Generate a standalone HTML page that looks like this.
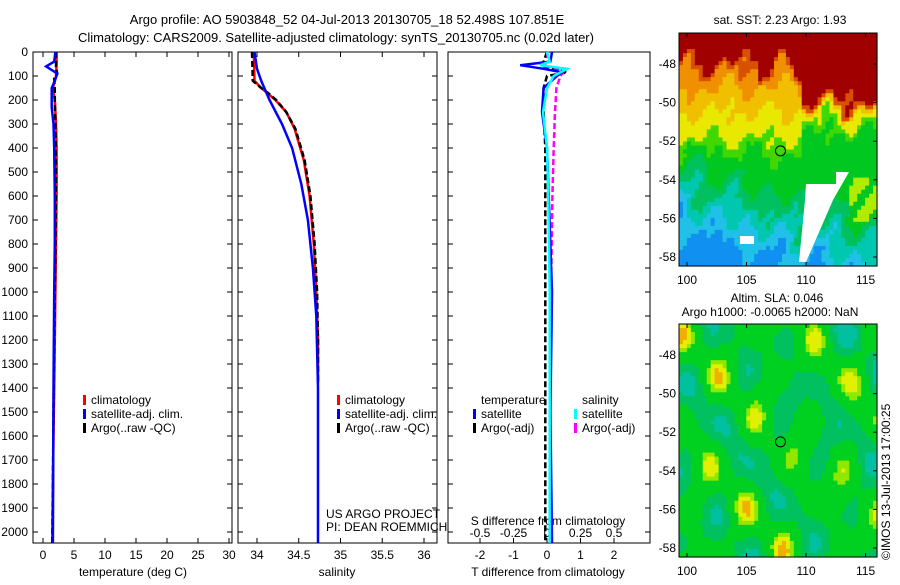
<!DOCTYPE html>
<html><head><meta charset="utf-8"><style>
body{margin:0;background:#fff;width:900px;height:580px;overflow:hidden}
svg{font-family:"Liberation Sans",sans-serif;font-size:12px}
</style></head><body>
<svg id="s" width="900" height="580" xmlns="http://www.w3.org/2000/svg">
<text x="347" y="24" text-anchor="middle" font-size="13">Argo profile: AO 5903848_52 04-Jul-2013 20130705_18 52.498S 107.851E</text>
<text x="336" y="42" text-anchor="middle" font-size="13">Climatology: CARS2009. Satellite-adjusted climatology: synTS_20130705.nc (0.02d later)</text>
<g id="g"></g>
<text x="780" y="24" text-anchor="middle">sat. SST: 2.23 Argo: 1.93</text>
<text x="777" y="302" text-anchor="middle">Altim. SLA: 0.046</text>
<text x="770" y="316" text-anchor="middle">Argo h1000: -0.0065 h2000: NaN</text>
<text transform="translate(890,560) rotate(-90)">©IMOS 13-Jul-2013 17:00:25</text>
<text x="326" y="518">US ARGO PROJECT</text>
<text x="326" y="531">PI: DEAN ROEMMICH</text>
</svg>
<script>
// data
const depthTicks=[0,100,200,300,400,500,600,700,800,900,1000,1100,1200,1300,1400,1500,1600,1700,1800,1900,2000];
const tTicks=[0,5,10,15,20,25,30];
const sTicks=[34,34.5,35,35.5,36];
const sTickLabels=["34","34.5","35","35.5","36"];
const dTTicks=[-2,-1,0,1,2];
const dSTicks=[-0.5,-0.25,0,0.25,0.5];
const dSTickLabels=["-0.5","-0.25","0","0.25","0.5"];
const climDepth=[0,50,100,150,200,300,400,600,800,1000,1200,1400,1600,1800,2045];
const climT=[2.2,2.2,2.1,1.6,1.9,2.1,2.2,2.2,2.1,2.0,1.9,1.8,1.7,1.6,1.5];
const satDepth=[0,40,60,90,120,150,230,300,400,600,800,1000,1400,2045];
const satT=[2.0,1.8,0.5,2.3,1.9,1.4,1.4,1.7,1.8,1.9,1.9,1.8,1.7,1.6];
const argoDepth=[0,60,90,110,150,200,300,500,800,1000,1200,1500,1800,2045];
const argoT=[2.1,2.1,2.3,1.8,1.9,1.9,2.0,2.1,2.0,1.9,1.8,1.7,1.6,1.5];
const climSDepth=[0,120,150,170,200,250,320,450,600,800,1000,1200,1380];
const climS=[33.96,33.97,34.05,34.12,34.22,34.35,34.45,34.56,34.63,34.68,34.71,34.73,34.73];
const argoS=[33.94,33.95,34.05,34.13,34.23,34.35,34.46,34.57,34.64,34.69,34.72,34.73,34.73];
const satSDepth=[0,70,120,200,300,400,550,700,900,1100,1400,2045];
const satS=[33.97,34.0,34.05,34.15,34.3,34.42,34.53,34.61,34.67,34.71,34.73,34.73];
const dDepth=[0,40,55,70,85,100,150,250,400,600,1000,1500,2045];
const dTsat=[0.15,0.1,-0.8,-0.1,0.45,0.3,-0.1,-0.15,0.0,0.05,0.15,0.1,0.15];
const dTargo=[0.0,-0.1,-0.2,0.2,0.6,0.0,-0.1,-0.1,-0.05,-0.05,-0.05,-0.05,-0.05];
const dSsat=[0.0,0.02,-0.05,0.15,0.1,0.05,0.0,-0.03,0.0,0.01,0.02,0.02,0.02];
const dSargo=[0.0,0.01,-0.03,0.08,0.12,0.1,0.07,0.06,0.05,0.04,0.03,0.02,0.02];
const latTicks=[48,50,52,54,56,58];
const lonTicks=[100,105,110,115];

const NS="http://www.w3.org/2000/svg";
const G=document.getElementById('g');
function mk(t,a,p){const e=document.createElementNS(NS,t);for(const k in a)e.setAttribute(k,a[k]);(p||G).appendChild(e);return e;}
const yD=d=>52+d*0.24;
function lin(d0,d1,r0,r1){return v=>r0+(v-d0)*(r1-r0)/(d1-d0);}
function panel(x0,x1,name){
  const b=mk('rect',{x:x0,y:52,width:x1-x0,height:491,fill:'none',stroke:'#000'});
  
  depthTicks.forEach(d=>{mk('line',{x1:x0,x2:x0+5,y1:yD(d),y2:yD(d),stroke:'#000'});mk('line',{x1:x1,x2:x1-5,y1:yD(d),y2:yD(d),stroke:'#000'});});
}
function line(xs,ds,fx,col,w,dash,name){
  const p=xs.map((v,i)=>fx(v).toFixed(1)+','+yD(ds[i]).toFixed(1)).join(' ');
  const e=mk('polyline',{points:p,fill:'none',stroke:col,'stroke-width':w});
  if(dash)e.setAttribute('stroke-dasharray',dash);
  
}
function txt(x,y,s,anc,name){const e=mk('text',{x:x,y:y,'text-anchor':anc||'start'});e.textContent=s;return e;}
function legend(x,y,items,pre){items.forEach((it,i)=>{mk('rect',{x:x,y:y+i*14-9,width:3,height:10,fill:it[0]});txt(x+8,y+i*14,it[1],'start',pre+'-legend-entry');});}

// panel 1
panel(33,232,'temperature-panel');
const xT=lin(0,30,43,229);
depthTicks.forEach(d=>txt(28,yD(d)+4,String(d),'end','depth-tick-label'));
tTicks.forEach(t=>{mk('line',{x1:xT(t),x2:xT(t),y1:52,y2:57,stroke:'#000'});mk('line',{x1:xT(t),x2:xT(t),y1:543,y2:538,stroke:'#000'});txt(xT(t),559,String(t),'middle','temperature-tick-label');});
txt(133,576,'temperature (deg C)','middle','temperature-axis-title');
line(climT,climDepth,xT,'#f00',2.5,null,'temp-climatology-line');
line(argoT,argoDepth,xT,'#000',2.5,'6,3','temp-argo-line');
line(satT,satDepth,xT,'#00f',2.5,null,'temp-satellite-line');
legend(83,404,[['#f00','climatology'],['#00f','satellite-adj. clim.'],['#000','Argo(..raw -QC)']],'temp');

// panel 2
panel(238,437,'salinity-panel');
const xS=lin(34,36,257,424);
sTicks.forEach((t,i)=>{mk('line',{x1:xS(t),x2:xS(t),y1:52,y2:57,stroke:'#000'});mk('line',{x1:xS(t),x2:xS(t),y1:543,y2:538,stroke:'#000'});txt(xS(t),559,sTickLabels[i],'middle','salinity-tick-label');});
txt(337,576,'salinity','middle','salinity-axis-title');
line(climS,climSDepth,xS,'#f00',2.5,null,'sal-climatology-line');
line(argoS,climSDepth,xS,'#000',2.5,'6,3','sal-argo-line');
line(satS,satSDepth,xS,'#00f',2.5,null,'sal-satellite-line');
legend(337,404,[['#f00','climatology'],['#00f','satellite-adj. clim.'],['#000','Argo(..raw -QC)']],'sal');

// panel 3
panel(448,650,'difference-panel');
const xdT=lin(-2,2,480,614), xdS=lin(-0.5,0.5,480,614);
dTTicks.forEach(t=>{mk('line',{x1:xdT(t),x2:xdT(t),y1:543,y2:538,stroke:'#000'});txt(xdT(t),559,String(t),'middle','tdiff-tick-label');});
dSTicks.forEach((t,i)=>txt(xdS(t),537,dSTickLabels[i],'middle','sdiff-tick-label'));
txt(548,525,'S difference from climatology','middle','sdiff-axis-title');
txt(548,576,'T difference from climatology','middle','tdiff-axis-title');
line(dTargo,dDepth,xdT,'#000',2.5,'6,3','tdiff-argo-line');
line(dSargo,dDepth,xdS,'#f0f',2.5,'6,3','sdiff-argo-line');
line(dTsat,dDepth,xdT,'#00f',2.5,null,'tdiff-satellite-line');
line(dSsat,dDepth,xdS,'#0ff',2.5,null,'sdiff-satellite-line');
txt(481,404,'temperature','start','tdiff-legend-title');
txt(582,404,'salinity','start','sdiff-legend-title');
legend(473,418,[['#00f','satellite'],['#000','Argo(-adj)']],'tdiff');
legend(574,418,[['#0ff','satellite'],['#f0f','Argo(-adj)']],'sdiff');

// maps (image-like fields)
function sstCol(x,y){
  let v=y+0.035*Math.sin(x*23+y*11)+0.03*Math.cos(x*41-y*17)+0.02*Math.sin(x*67+y*53);
  const redLim=x<0.4?0.12:(x<0.62?0.17-0.1*Math.exp(-Math.pow((x-0.5)/0.05,2)):0.27);
  if(v<redLim)return'#a00000';
  if(v<redLim+0.04)return'#d85000';
  if(v<0.23)return'#f09000';
  if(v<0.33)return'#f0c000';
  const yl=0.45-(x>0.6?0.08:0);
  if(v<yl)return'#e8e800';
  if(v<yl+0.05)return'#40d800';
  const q=v+0.25*(0.5-x)+0.05*Math.sin(x*30+y*20);
  if(x>0.84&&y>0.62&&y<0.8&&Math.sin(x*50+y*40)>-0.3)return'#b0ec00';
  if(q<0.68)return'#00c820';
  if(q<0.78)return'#00c060';
  if(q<0.86)return'#00c8b0';
  if(q<0.95)return'#20c0e8';
  return'#1090f0';
}
function slaCol(x,y){
  const v=Math.sin(x*19+1.3)*Math.cos(y*17-0.7)+0.6*Math.sin(x*11-y*13+2)+0.4*Math.cos(x*27+y*5);
  if(v>1.75)return'#f0b000';if(v>1.35)return'#e0f000';if(v>1.0)return'#90e800';if(v>-0.3)return'#00d020';if(v>-1.1)return'#00c060';return'#00c0a0';
}
function map(x0,y0,w,h,f,name,white){
  const g=mk('g',{});
  const n=50,m=58,cw=w/n,ch=h/m;
  for(let i=0;i<n;i++)for(let j=0;j<m;j++){mk('rect',{x:(x0+i*cw).toFixed(2),y:(y0+j*ch).toFixed(2),width:(cw+0.6).toFixed(2),height:(ch+0.6).toFixed(2),fill:f(i/n,j/m)},g);}
  if(white){mk('polygon',{points:'836,172 849,172 833,200 806,262 799,262 805,200 806,184 836,184',fill:'#fff'},g);mk('rect',{x:740,y:236,width:14,height:8,fill:'#fff'},g);}
  const lx=lin(100,116,687,877.5);
  mk('rect',{x:x0,y:y0,width:w,height:h,fill:'none',stroke:'#000'},g);
  lonTicks.forEach(l=>{mk('line',{x1:lx(l),x2:lx(l),y1:y0+h,y2:y0+h-4,stroke:'#000'},g);mk('line',{x1:lx(l),x2:lx(l),y1:y0,y2:y0+4,stroke:'#000'},g);txt(lx(l),y0+h+18,String(l),'middle','longitude-tick-label');});
  latTicks.forEach((l,i)=>{const yy=y0+31+(l-48)*19.3;mk('line',{x1:x0+w,x2:x0+w-4,y1:yy,y2:yy,stroke:'#000'},g);txt(x0-3,yy+4,'-'+l,'end','latitude-tick-label');});
  mk('circle',{cx:lx(107.85),cy:y0+31+(52.5-48)*19.3,r:5,fill:'none',stroke:'#000'},g);
}
map(679,33,198,233,sstCol,'sst-map',true);
map(679,324,198,233,slaCol,'sla-map',false);
</script>
</body></html>
